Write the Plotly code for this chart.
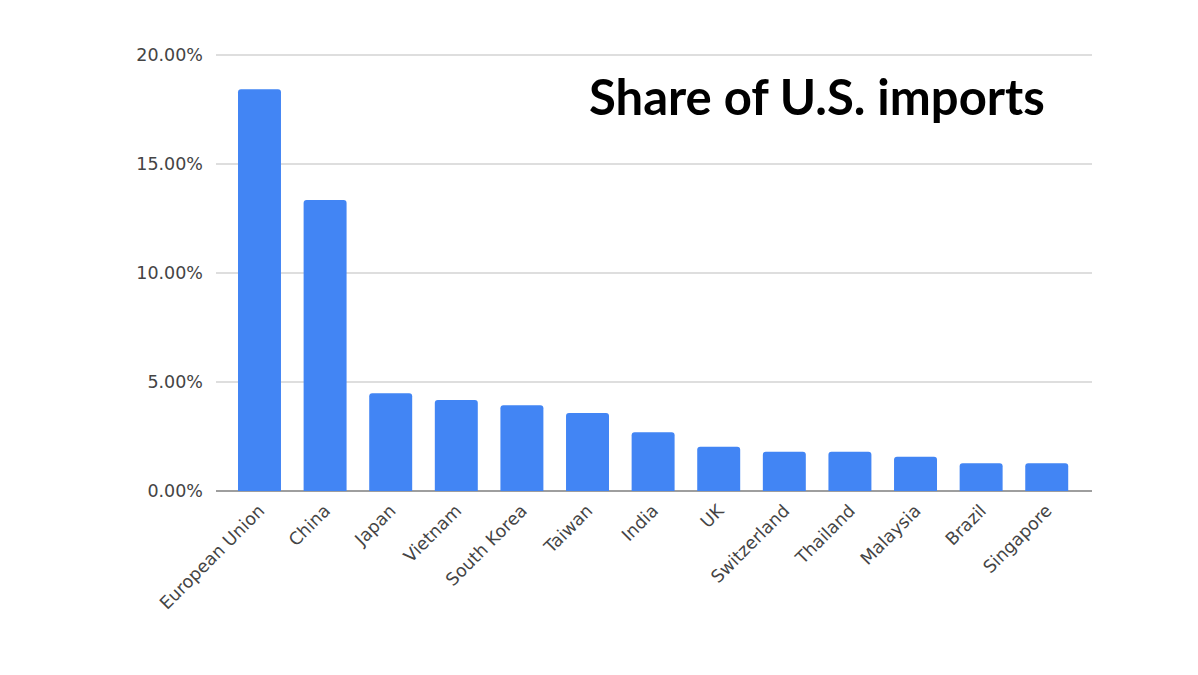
import plotly.graph_objects as go

countries = ["European Union", "China", "Japan", "Vietnam", "South Korea", "Taiwan",
             "India", "UK", "Switzerland", "Thailand", "Malaysia", "Brazil", "Singapore"]
share = [0.1843, 0.1335, 0.0448, 0.0417, 0.0394, 0.0358,
         0.0269, 0.0203, 0.0180, 0.0180, 0.0157, 0.0127, 0.0127]
y_ticks = [0, 0.05, 0.10, 0.15, 0.20]
title_text = "Share of U.S. imports"

fig = go.Figure(go.Bar(
    x=countries, y=share,
    marker=dict(color="#4285F4", cornerradius=3, line=dict(width=0)),
))

fig.update_layout(
    width=1198, height=675,
    margin=dict(l=216, r=106, t=54, b=184),
    paper_bgcolor="white", plot_bgcolor="white",
    bargap=0.345,
    showlegend=False,
    font=dict(family="DejaVu Sans, sans-serif", size=17.5, color="#444444"),
    annotations=[dict(
        text="<b>" + title_text + "</b>",
        xref="paper", yref="paper", x=0.9486, y=0.904,
        xanchor="right", yanchor="middle", showarrow=False,
        font=dict(family="Lato, Inter, sans-serif", size=49, color="#000000", weight=900),
    )],
)
fig.update_xaxes(
    type="category",
    range=[-0.663, len(countries) - 1 + 0.69],
    tickangle=-45, showgrid=False, showline=False, zeroline=False,
    ticklabelstandoff=5,
    tickfont=dict(size=17.5, color="#444444"),
)
fig.update_yaxes(
    range=[0, 0.2005], tickvals=y_ticks, tickformat=".2%",
    showgrid=True, gridcolor="#dedede", gridwidth=1.5,
    zeroline=True, zerolinecolor="#9e9e9e", zerolinewidth=2,
    showline=False, ticklabelstandoff=12,
    tickfont=dict(size=17.5, color="#444444"),
)

fig.write_html("out.html")
